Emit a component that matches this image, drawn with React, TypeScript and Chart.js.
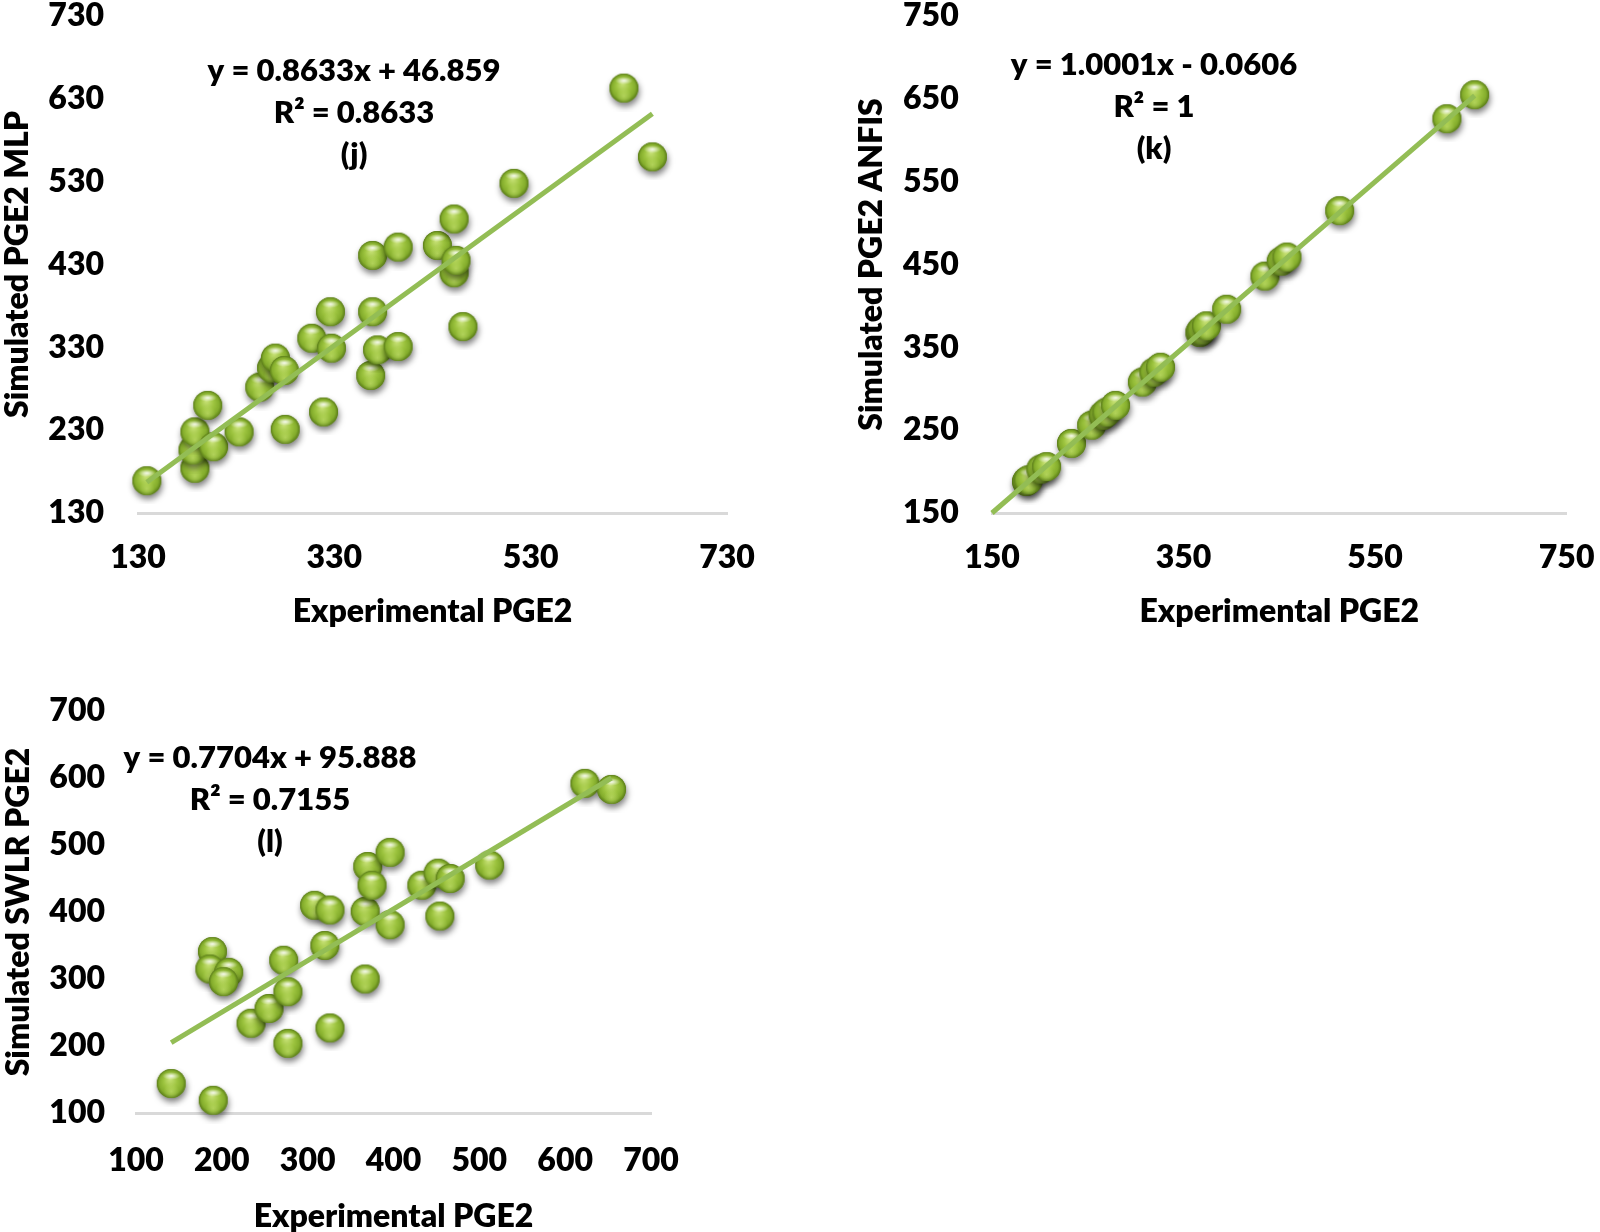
import React, { useEffect, useRef } from "react";
import { Chart, registerables } from "chart.js";

Chart.register(...registerables);

const FONT = "Lato, 'Open Sans', 'DejaVu Sans', sans-serif";
const WEIGHT = 800;

// ---------------- (j) MLP ----------------
const mlpExperimental = [139, 188, 186, 188, 207, 201, 233, 280, 254, 266, 270, 279, 307, 327, 326, 319, 367, 369, 374, 395, 369, 395, 435, 452, 452, 454, 461, 513, 625, 654];
const mlpSimulated = [169, 184, 206, 228, 210, 260, 228, 231, 282, 305, 317, 302, 341, 329, 373, 252, 296, 373, 327, 331, 441, 451, 453, 485, 420, 435, 355, 528, 643, 560];
const mlpTrendX = [139, 654];
const mlpTrendY = [167, 612];
const mlpXTicks = [130, 330, 530, 730];
const mlpYTicks = [130, 230, 330, 430, 530, 630, 730];
const mlpLabels = ["y = 0.8633x + 46.859", "R² = 0.8633", "(j)"];

// ---------------- (k) ANFIS ----------------
const anfisExperimental = [186, 188, 201, 207, 233, 254, 266, 270, 279, 307, 319, 326, 367, 369, 374, 395, 435, 452, 458, 513, 625, 654];
const anfisSimulated = [188, 190, 203, 206, 234, 256, 268, 272, 280, 308, 320, 326, 368, 371, 376, 396, 436, 454, 459, 515, 626, 655];
const anfisTrendX = [150, 654];
const anfisTrendY = [150, 654];
const anfisXTicks = [150, 350, 550, 750];
const anfisYTicks = [150, 250, 350, 450, 550, 650, 750];
const anfisLabels = ["y = 1.0001x - 0.0606", "R² = 1", "(k)"];

// ---------------- (l) SWLR ----------------
const swlrExperimental = [141, 190, 189, 186, 208, 202, 234, 255, 272, 277, 277, 308, 326, 320, 326, 367, 367, 370, 375, 396, 396, 433, 452, 466, 454, 512, 623, 654];
const swlrSimulated = [144, 119, 341, 315, 310, 296, 234, 256, 328, 281, 204, 410, 403, 350, 227, 300, 401, 468, 440, 381, 489, 440, 458, 450, 394, 470, 592, 583];
const swlrTrendX = [141, 654];
const swlrTrendY = [205, 600];
const swlrXTicks = [100, 200, 300, 400, 500, 600, 700];
const swlrYTicks = [100, 200, 300, 400, 500, 600, 700];
const swlrLabels = ["y = 0.7704x + 95.888", "R² = 0.7155", "(l)"];

function makeBall(r: number): HTMLCanvasElement {
  const pad = 9;
  const size = Math.ceil((r + pad) * 2);
  const c = document.createElement("canvas");
  c.width = size;
  c.height = size;
  const ctx = c.getContext("2d")!;
  const cx = size / 2;
  const cy = size / 2;
  ctx.save();
  ctx.shadowColor = "rgba(0,0,0,0.5)";
  ctx.shadowBlur = 6;
  ctx.shadowOffsetX = 1;
  ctx.shadowOffsetY = 4;
  ctx.beginPath();
  ctx.arc(cx, cy, r, 0, Math.PI * 2);
  ctx.fillStyle = "#6f9428";
  ctx.fill();
  ctx.restore();
  const g = ctx.createRadialGradient(cx - r * 0.1, cy - r * 0.3, r * 0.05, cx, cy, r);
  g.addColorStop(0, "#c4df72");
  g.addColorStop(0.45, "#9dc43f");
  g.addColorStop(0.8, "#84ad2c");
  g.addColorStop(1, "#5a7c18");
  ctx.beginPath();
  ctx.arc(cx, cy, r, 0, Math.PI * 2);
  ctx.fillStyle = g;
  ctx.fill();
  const g2 = ctx.createRadialGradient(cx, cy + r * 0.55, 0, cx, cy + r * 0.55, r * 0.55);
  g2.addColorStop(0, "rgba(205,232,120,0.55)");
  g2.addColorStop(1, "rgba(205,232,120,0)");
  ctx.beginPath();
  ctx.arc(cx, cy, r, 0, Math.PI * 2);
  ctx.fillStyle = g2;
  ctx.fill();
  ctx.save();
  ctx.translate(cx, cy - r * 0.52);
  ctx.scale(1.35, 0.6);
  const g3 = ctx.createRadialGradient(0, 0, 0, 0, 0, r * 0.45);
  g3.addColorStop(0, "rgba(255,255,255,0.9)");
  g3.addColorStop(1, "rgba(255,255,255,0)");
  ctx.beginPath();
  ctx.arc(0, 0, r * 0.45, 0, Math.PI * 2);
  ctx.fillStyle = g3;
  ctx.fill();
  ctx.restore();
  return c;
}

const eqTextPlugin = {
  id: "eqText",
  afterDraw(chart: any, _args: any, opts: any) {
    const ctx = chart.ctx;
    ctx.save();
    ctx.font = `${WEIGHT} ${opts.size}px ${FONT}`;
    ctx.fillStyle = "#000";
    ctx.textAlign = "center";
    ctx.textBaseline = "alphabetic";
    (opts.lines as string[]).forEach((t, i) => ctx.fillText(t, opts.x, opts.y + i * opts.gap));
    ctx.restore();
  },
};

type PanelProps = {
  left: number;
  top: number;
  width: number;
  height: number;
  padding: { left: number; top: number; right: number; bottom: number };
  yWidth: number;
  xHeight: number;
  yTickGap: number;
  xTickGap: number;
  xs: number[];
  ys: number[];
  trendX: number[];
  trendY: number[];
  xTicks: number[];
  yTicks: number[];
  labels: string[];
  textX: number;
  textY: number;
  xTitle: string;
  yTitle: string;
};

function ScatterPanel(p: PanelProps) {
  const ref = useRef<HTMLCanvasElement | null>(null);
  useEffect(() => {
    if (!ref.current) return;
    const ball = makeBall(14.5);
    const tickFont = { family: FONT, size: 32, weight: WEIGHT as any, lineHeight: 1 };
    const titleFont = { family: FONT, size: 32, weight: WEIGHT as any, lineHeight: 1 };
    const chart = new Chart(ref.current, {
      type: "scatter",
      data: {
        datasets: [
          {
            data: p.trendX.map((x, i) => ({ x, y: p.trendY[i] })),
            showLine: true,
            borderColor: "#93bd55",
            borderWidth: 5,
            pointRadius: 0,
            order: 0,
            clip: false as any,
          },
          {
            data: p.xs.map((x, i) => ({ x, y: p.ys[i] })),
            pointStyle: ball as any,
            pointRadius: 14.5,
            order: 1,
            clip: false as any,
          },
        ],
      },
      options: {
        responsive: false,
        animation: false,
        devicePixelRatio: 1,
        events: [],
        layout: { padding: p.padding },
        plugins: {
          legend: { display: false },
          tooltip: { enabled: false },
          eqText: { lines: p.labels, x: p.textX, y: p.textY, gap: 42, size: 31 },
        } as any,
        scales: {
          x: {
            type: "linear",
            min: p.xTicks[0],
            max: p.xTicks[p.xTicks.length - 1],
            afterBuildTicks: (s: any) => {
              s.ticks = p.xTicks.map((v) => ({ value: v }));
            },
            afterFit: (s: any) => {
              s.height = p.xHeight;
            },
            grid: {
              display: true,
              drawOnChartArea: false,
              drawTicks: true,
              tickLength: p.xTickGap,
              color: "rgba(0,0,0,0)",
            },
            border: { display: true, color: "#d9d9d9", width: 3 },
            ticks: { font: tickFont, color: "#000", padding: 0, maxRotation: 0, autoSkip: false },
            title: { display: true, text: p.xTitle, font: titleFont, color: "#000", padding: 0 },
          },
          y: {
            type: "linear",
            min: p.yTicks[0],
            max: p.yTicks[p.yTicks.length - 1],
            afterBuildTicks: (s: any) => {
              s.ticks = p.yTicks.map((v) => ({ value: v }));
            },
            afterFit: (s: any) => {
              s.width = p.yWidth;
            },
            grid: {
              display: true,
              drawOnChartArea: false,
              drawTicks: true,
              tickLength: p.yTickGap,
              color: "rgba(0,0,0,0)",
            },
            border: { display: false },
            ticks: { font: tickFont, color: "#000", padding: 0, autoSkip: false },
            title: { display: true, text: p.yTitle, font: titleFont, color: "#000", padding: 0 },
          },
        },
      },
      plugins: [eqTextPlugin],
    } as any);
    return () => chart.destroy();
  }, []);
  return (
    <canvas
      ref={ref}
      width={p.width}
      height={p.height}
      style={{ position: "absolute", left: p.left, top: p.top, width: p.width, height: p.height }}
    />
  );
}

export default function App() {
  return (
    <div
      style={{
        position: "absolute",
        left: 0,
        top: 0,
        width: 1600,
        height: 1232,
        overflow: "hidden",
        background: "#fff",
      }}
    >
      <ScatterPanel
        left={0}
        top={0}
        width={800}
        height={640}
        padding={{ left: 2, top: 15.5, right: 73, bottom: 12 }}
        yWidth={136}
        xHeight={115}
        yTickGap={34}
        xTickGap={28.5}
        xs={mlpExperimental}
        ys={mlpSimulated}
        trendX={mlpTrendX}
        trendY={mlpTrendY}
        xTicks={mlpXTicks}
        yTicks={mlpYTicks}
        labels={mlpLabels}
        textX={354}
        textY={81}
        xTitle="Experimental PGE2"
        yTitle="Simulated PGE2 MLP"
      />
      <ScatterPanel
        left={800}
        top={0}
        width={800}
        height={640}
        padding={{ left: 55.7, top: 15.5, right: 33.4, bottom: 12 }}
        yWidth={136.3}
        xHeight={115}
        yTickGap={33.3}
        xTickGap={28.5}
        xs={anfisExperimental}
        ys={anfisSimulated}
        trendX={anfisTrendX}
        trendY={anfisTrendY}
        xTicks={anfisXTicks}
        yTicks={anfisYTicks}
        labels={anfisLabels}
        textX={354}
        textY={75}
        xTitle="Experimental PGE2"
        yTitle="Simulated PGE2 ANFIS"
      />
      <ScatterPanel
        left={0}
        top={640}
        width={800}
        height={600}
        padding={{ left: 3, top: 71, right: 149, bottom: 7 }}
        yWidth={133}
        xHeight={120}
        yTickGap={31}
        xTickGap={31.5}
        xs={swlrExperimental}
        ys={swlrSimulated}
        trendX={swlrTrendX}
        trendY={swlrTrendY}
        xTicks={swlrXTicks}
        yTicks={swlrYTicks}
        labels={swlrLabels}
        textX={270}
        textY={128}
        xTitle="Experimental PGE2"
        yTitle="Simulated SWLR PGE2"
      />
    </div>
  );
}
